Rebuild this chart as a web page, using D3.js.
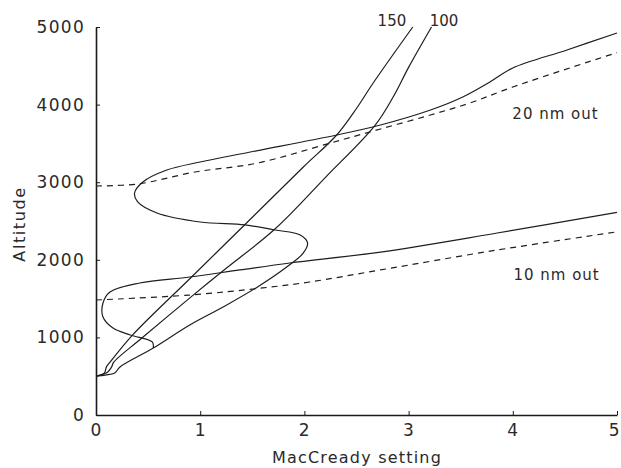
<!DOCTYPE html>
<html>
<head>
<meta charset="utf-8">
<script src="https://cdn.jsdelivr.net/npm/d3@7"></script>
<style>
  body { margin: 0; background: #fff; }
  text { font-family: "DejaVu Sans", sans-serif; fill: #2a2a2a; }
</style>
</head>
<body>
<div id="chart"></div>
<script>
// MacCready setting vs altitude
var xTicks = [0, 1, 2, 3, 4, 5]
var yTicks = [0, 1000, 2000, 3000, 4000, 5000]

// glide curves labelled 150 and 100
var curve150 = [[0,500],[0.08,540],[0.1,620],[0.14,690],[0.35,1030],[0.9,1756],[1.43,2455],[1.99,3196],[2.31,3608],[2.5,3950],[2.66,4278],[3.04,5000]]
var curve100 = [[0,500],[0.11,550],[0.15,620],[0.17,680],[0.44,992],[0.93,1542],[1.22,1860],[1.72,2400],[2.2,3060],[2.68,3737],[2.85,4094],[3.0,4480],[3.22,5000]]

// 20 nm out
var out20Solid = [[5,4923],[4.52,4704],[4.0,4472],[3.78,4291],[3.52,4098],[3.21,3930],[2.73,3737],[2.31,3608],[1.48,3389],[1.0,3260],[0.68,3157],[0.45,3003],[0.37,2861],[0.4,2745],[0.585,2603],[1.0,2487],[1.43,2449],[1.72,2384],[1.96,2320],[2.03,2217],[1.99,2088],[1.83,1907],[1.55,1650],[1.22,1392],[0.9,1160],[0.55,863],[0.23,619],[0.18,541],[0.09,515],[0,500]]
var out20Dashed = [[0,2951],[0.4,2977],[0.95,3131],[1.55,3247],[2.25,3505],[2.73,3686],[3.21,3866],[3.59,4021],[4.0,4227],[5,4670]]

// 10 nm out
var out10Solid = [[5,2610],[3.85,2345],[2.73,2100],[1.86,1959],[1.38,1869],[0.9,1778],[0.42,1701],[0.134,1585],[0.067,1443],[0.067,1263],[0.163,1121],[0.33,1031],[0.54,941],[0.55,863]]
var out10Dashed = [[0,1482],[0.9,1546],[1.6,1637],[2.05,1714],[2.73,1869],[3.85,2126],[5,2360]]

var curveLabels = [["150", 2.84, 5015], ["100", 3.34, 5015]]
var outLabels = [["20 nm out", 4.41, 3820], ["10 nm out", 4.42, 1745]]

var width = 621, height = 468
var svg = d3.select("#chart").append("svg")
    .attr("width", width)
    .attr("height", height)

var x = d3.scaleLinear().domain([0, 5]).range([96, 617])
var y = d3.scaleLinear().domain([0, 5000]).range([415, 27])

var xAxis = svg.append("g")
    .attr("transform", "translate(0," + y(0) + ")")
    .call(d3.axisBottom(x).tickValues(xTicks).tickSize(-4).tickSizeOuter(0).tickPadding(9).tickFormat(d3.format("d")))
var yAxis = svg.append("g")
    .attr("transform", "translate(" + x(0) + ",0)")
    .call(d3.axisLeft(y).tickValues(yTicks).tickSize(-4).tickSizeOuter(0).tickPadding(11).tickFormat(d3.format("d")))

svg.selectAll(".domain").attr("stroke", "#1a1a1a").attr("stroke-width", 1.6)
svg.selectAll(".tick line").attr("stroke", "#1a1a1a")
svg.selectAll(".tick text")
    .style("font-size", "17px")
    .style("letter-spacing", "1.3px")
    .attr("fill", "#2a2a2a")
    .attr("font-family", null)
// last x label sits on the right edge, keep it inside
xAxis.selectAll(".tick text").filter(function(d){ return d == 5 })
    .style("letter-spacing", "0px")
    .attr("text-anchor", "end")
    .attr("dx", "2")

svg.append("text")
    .attr("x", 357)
    .attr("y", 463)
    .attr("text-anchor", "middle")
    .style("font-size", "16px")
    .style("letter-spacing", "1.2px")
    .text("MacCready setting")

svg.append("text")
    .attr("transform", "translate(25,224) rotate(-90)")
    .attr("text-anchor", "middle")
    .style("font-size", "16px")
    .style("letter-spacing", "1.6px")
    .text("Altitude")

var line = d3.line()
    .x(function(d){ return x(d[0]) })
    .y(function(d){ return y(d[1]) })
    .curve(d3.curveCatmullRom.alpha(0.5))

var solids = [curve150, curve100, out20Solid, out10Solid]
var dashes = [out20Dashed, out10Dashed]

svg.selectAll(".solid").data(solids).enter().append("path")
    .attr("class", "solid")
    .attr("d", line)
    .attr("fill", "none")
    .attr("stroke", "#1e1e1e")
    .attr("stroke-width", 1.2)

svg.selectAll(".dash").data(dashes).enter().append("path")
    .attr("class", "dash")
    .attr("d", line)
    .attr("fill", "none")
    .attr("stroke", "#1e1e1e")
    .attr("stroke-width", 1.2)
    .attr("stroke-dasharray", "6,5")

svg.selectAll(".clabel").data(curveLabels).enter().append("text")
    .attr("class", "clabel")
    .attr("x", function(d){ return x(d[1]) })
    .attr("y", function(d){ return y(d[2]) })
    .attr("text-anchor", "middle")
    .style("font-size", "15px")
    .text(function(d){ return d[0] })

svg.selectAll(".olabel").data(outLabels).enter().append("text")
    .attr("class", "olabel")
    .attr("x", function(d){ return x(d[1]) })
    .attr("y", function(d){ return y(d[2]) })
    .attr("text-anchor", "middle")
    .style("font-size", "15px")
    .style("letter-spacing", "1px")
    .text(function(d){ return d[0] })
</script>
</body>
</html>
